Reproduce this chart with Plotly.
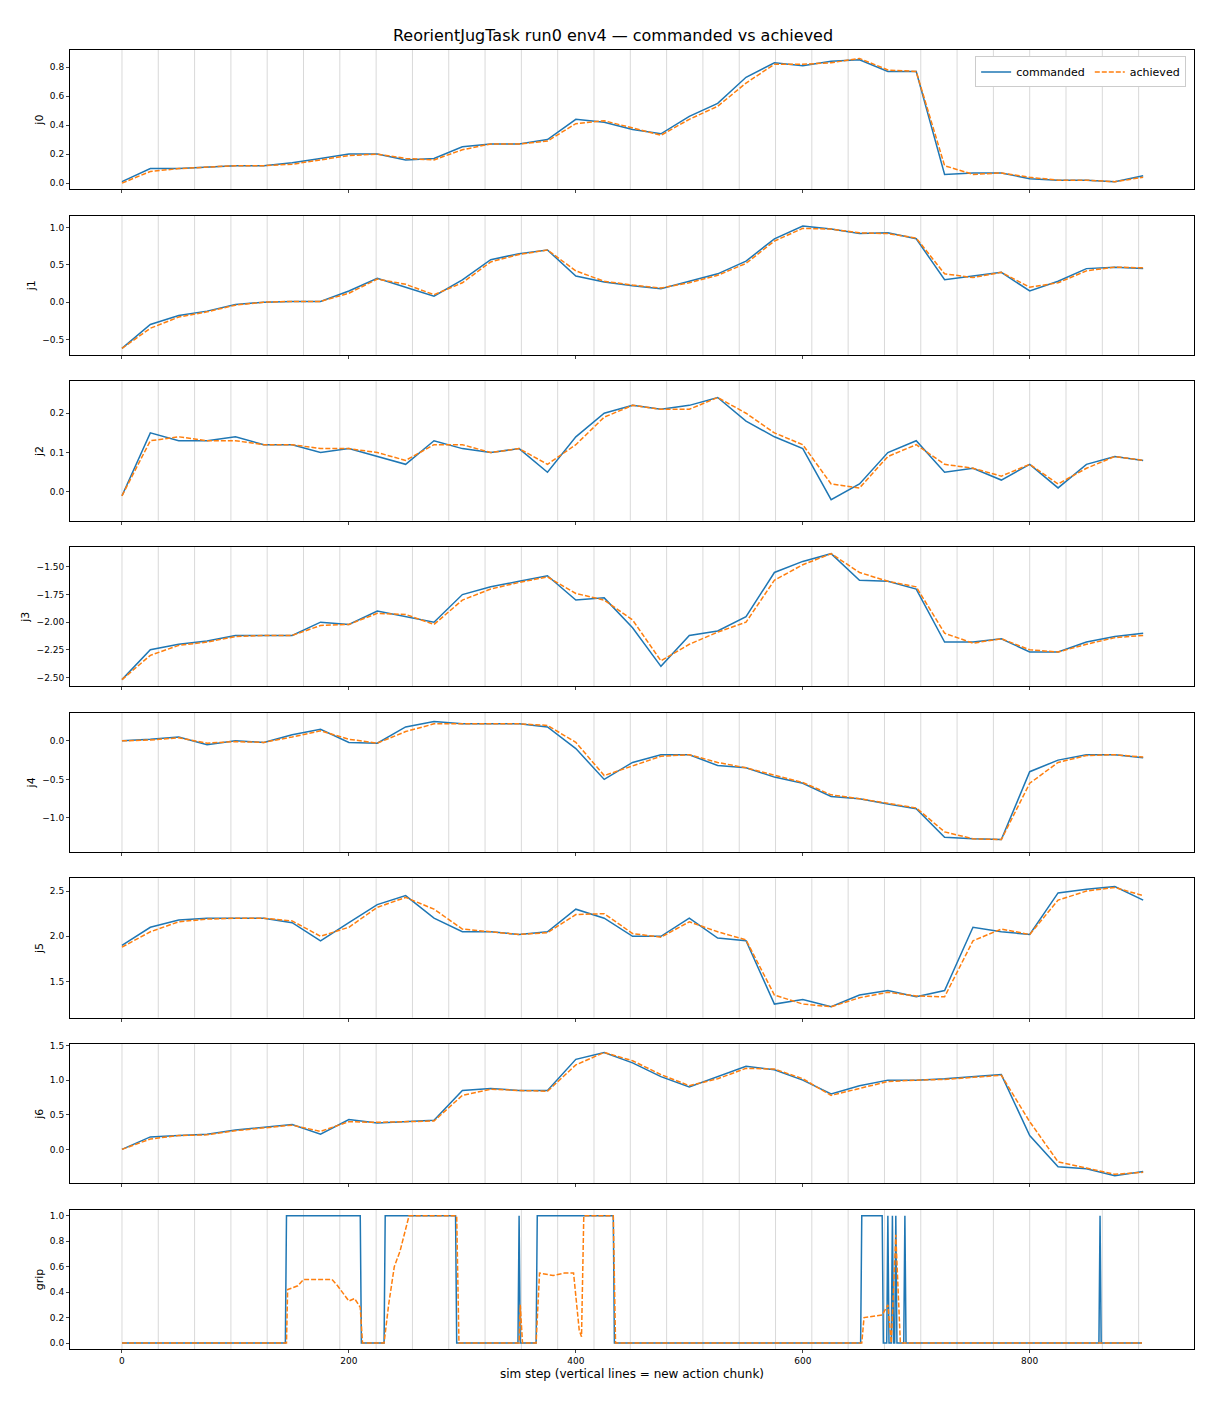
import plotly.graph_objects as go
from plotly.subplots import make_subplots

steps = list(range(0, 901, 25))

cmd_j0 = [0.01, 0.10, 0.10, 0.11, 0.12, 0.12, 0.14, 0.17, 0.20, 0.20, 0.16, 0.17, 0.25, 0.27, 0.27, 0.30, 0.44, 0.42, 0.37, 0.34, 0.46, 0.55, 0.73, 0.83, 0.81, 0.84, 0.85, 0.77, 0.77, 0.06, 0.07, 0.07, 0.03, 0.02, 0.02, 0.01, 0.05]
ach_j0 = [0.00, 0.08, 0.10, 0.11, 0.12, 0.12, 0.13, 0.16, 0.19, 0.20, 0.17, 0.16, 0.23, 0.27, 0.27, 0.29, 0.41, 0.43, 0.38, 0.33, 0.44, 0.53, 0.69, 0.82, 0.82, 0.83, 0.86, 0.78, 0.77, 0.12, 0.06, 0.07, 0.04, 0.02, 0.02, 0.01, 0.04]
cmd_j1 = [-0.62, -0.30, -0.18, -0.12, -0.03, 0.00, 0.01, 0.01, 0.15, 0.32, 0.20, 0.08, 0.30, 0.57, 0.65, 0.70, 0.35, 0.27, 0.22, 0.18, 0.28, 0.38, 0.55, 0.85, 1.02, 0.98, 0.92, 0.93, 0.85, 0.30, 0.35, 0.40, 0.15, 0.28, 0.45, 0.47, 0.45]
ach_j1 = [-0.62, -0.35, -0.20, -0.13, -0.04, 0.00, 0.01, 0.01, 0.12, 0.31, 0.24, 0.10, 0.26, 0.54, 0.64, 0.70, 0.42, 0.28, 0.23, 0.19, 0.26, 0.36, 0.52, 0.82, 0.99, 0.98, 0.93, 0.92, 0.86, 0.38, 0.33, 0.40, 0.20, 0.26, 0.42, 0.47, 0.46]
cmd_j2 = [-0.01, 0.15, 0.13, 0.13, 0.14, 0.12, 0.12, 0.10, 0.11, 0.09, 0.07, 0.13, 0.11, 0.10, 0.11, 0.05, 0.14, 0.20, 0.22, 0.21, 0.22, 0.24, 0.18, 0.14, 0.11, -0.02, 0.02, 0.10, 0.13, 0.05, 0.06, 0.03, 0.07, 0.01, 0.07, 0.09, 0.08]
ach_j2 = [-0.01, 0.13, 0.14, 0.13, 0.13, 0.12, 0.12, 0.11, 0.11, 0.10, 0.08, 0.12, 0.12, 0.10, 0.11, 0.07, 0.12, 0.19, 0.22, 0.21, 0.21, 0.24, 0.20, 0.15, 0.12, 0.02, 0.01, 0.09, 0.12, 0.07, 0.06, 0.04, 0.07, 0.02, 0.06, 0.09, 0.08]
cmd_j3 = [-2.52, -2.25, -2.20, -2.17, -2.12, -2.12, -2.12, -2.00, -2.02, -1.90, -1.95, -2.00, -1.75, -1.68, -1.63, -1.58, -1.80, -1.78, -2.05, -2.40, -2.12, -2.08, -1.95, -1.55, -1.45, -1.38, -1.62, -1.63, -1.70, -2.18, -2.18, -2.15, -2.27, -2.27, -2.18, -2.13, -2.10]
ach_j3 = [-2.52, -2.30, -2.21, -2.18, -2.13, -2.12, -2.12, -2.03, -2.02, -1.92, -1.93, -2.02, -1.80, -1.70, -1.64, -1.59, -1.74, -1.80, -1.98, -2.35, -2.20, -2.09, -2.00, -1.62, -1.48, -1.38, -1.55, -1.63, -1.68, -2.10, -2.19, -2.15, -2.25, -2.27, -2.20, -2.14, -2.12]
cmd_j4 = [0.00, 0.02, 0.05, -0.05, 0.00, -0.02, 0.08, 0.15, -0.02, -0.03, 0.18, 0.25, 0.22, 0.22, 0.22, 0.18, -0.10, -0.50, -0.28, -0.18, -0.18, -0.32, -0.35, -0.47, -0.55, -0.72, -0.75, -0.82, -0.88, -1.25, -1.27, -1.28, -0.40, -0.25, -0.18, -0.18, -0.22]
ach_j4 = [0.00, 0.01, 0.04, -0.03, -0.01, -0.02, 0.05, 0.13, 0.02, -0.03, 0.12, 0.22, 0.22, 0.22, 0.22, 0.20, -0.02, -0.45, -0.33, -0.20, -0.18, -0.28, -0.35, -0.45, -0.54, -0.70, -0.75, -0.81, -0.87, -1.18, -1.27, -1.28, -0.55, -0.28, -0.19, -0.18, -0.21]
cmd_j5 = [1.90, 2.10, 2.18, 2.20, 2.20, 2.20, 2.15, 1.95, 2.15, 2.35, 2.45, 2.20, 2.05, 2.05, 2.02, 2.05, 2.30, 2.20, 2.00, 2.00, 2.20, 1.98, 1.95, 1.25, 1.30, 1.22, 1.35, 1.40, 1.33, 1.40, 2.10, 2.05, 2.02, 2.48, 2.52, 2.55, 2.40]
ach_j5 = [1.88, 2.05, 2.16, 2.19, 2.20, 2.20, 2.17, 2.00, 2.10, 2.32, 2.43, 2.30, 2.08, 2.05, 2.02, 2.04, 2.24, 2.25, 2.03, 1.99, 2.16, 2.05, 1.96, 1.35, 1.25, 1.22, 1.32, 1.38, 1.34, 1.33, 1.95, 2.08, 2.02, 2.40, 2.50, 2.54, 2.45]
cmd_j6 = [0.00, 0.18, 0.20, 0.22, 0.28, 0.32, 0.36, 0.22, 0.43, 0.38, 0.40, 0.42, 0.85, 0.88, 0.85, 0.85, 1.30, 1.40, 1.25, 1.05, 0.90, 1.05, 1.20, 1.15, 1.00, 0.80, 0.92, 1.00, 1.00, 1.02, 1.05, 1.08, 0.20, -0.25, -0.28, -0.38, -0.32]
ach_j6 = [0.00, 0.15, 0.20, 0.21, 0.27, 0.31, 0.35, 0.26, 0.40, 0.39, 0.40, 0.41, 0.78, 0.87, 0.85, 0.84, 1.22, 1.40, 1.28, 1.08, 0.92, 1.02, 1.17, 1.16, 1.02, 0.78, 0.88, 0.98, 1.00, 1.01, 1.04, 1.07, 0.40, -0.18, -0.27, -0.36, -0.33]

grip_cmd_x = [0, 144, 145, 210, 211, 231, 232, 294, 295, 349, 350, 351, 365, 366, 433, 434, 651, 652, 670, 671, 674, 675, 676, 678, 679, 680, 681, 682, 683, 689, 690, 691, 861, 862, 863, 899]
grip_cmd_y = [0, 0, 1, 1, 0, 0, 1, 1, 0, 0, 1, 0, 0, 1, 1, 0, 0, 1, 1, 0, 0, 1, 0, 0, 1, 0, 0, 1, 0, 0, 1, 0, 0, 1, 0, 0]
grip_ach_x = [0, 145, 146, 155, 160, 185, 190, 200, 205, 210, 212, 231, 235, 240, 245, 253, 295, 297, 350, 351, 353, 365, 368, 380, 390, 398, 403, 405, 407, 433, 435, 652, 654, 670, 675, 678, 682, 686, 899]
grip_ach_y = [0, 0, 0.42, 0.45, 0.5, 0.5, 0.45, 0.33, 0.35, 0.28, 0, 0, 0.3, 0.6, 0.72, 1.0, 1.0, 0, 0, 0.3, 0, 0, 0.55, 0.53, 0.55, 0.55, 0.1, 0.05, 1.0, 1.0, 0, 0, 0.2, 0.22, 0.3, 0.0, 0.85, 0, 0]

names = ["j0", "j1", "j2", "j3", "j4", "j5", "j6", "grip"]
cmds = [cmd_j0, cmd_j1, cmd_j2, cmd_j3, cmd_j4, cmd_j5, cmd_j6]
achs = [ach_j0, ach_j1, ach_j2, ach_j3, ach_j4, ach_j5, ach_j6]
yranges = [[-0.042, 0.918], [-0.707, 1.16], [-0.073, 0.281], [-2.58, -1.32],
           [-1.44, 0.364], [1.10, 2.64], [-0.49, 1.52], [-0.047, 1.047]]
dticks = [0.2, 0.5, 0.1, 0.25, 0.5, 0.5, 0.5, 0.2]
fmts = [".1f", ".1f", ".1f", ".2f", ".1f", ".1f", ".1f", ".1f"]

blue = "#1f77b4"
orange = "#ff7f0e"

fig = make_subplots(rows=8, cols=1, shared_xaxes=True, vertical_spacing=0.0204)

for i in range(8):
    r = i + 1
    if i < 7:
        xc, yc, xa, ya = steps, cmds[i], steps, achs[i]
    else:
        xc, yc, xa, ya = grip_cmd_x, grip_cmd_y, grip_ach_x, grip_ach_y
    fig.add_trace(go.Scatter(x=xc, y=yc, mode="lines", name="commanded",
                             line=dict(color=blue, width=1.5), showlegend=(i == 0)), row=r, col=1)
    fig.add_trace(go.Scatter(x=xa, y=ya, mode="lines", name="achieved",
                             line=dict(color=orange, width=1.5, dash="5px,2px"), showlegend=(i == 0)), row=r, col=1)
    for s in range(0, 900, 32):
        fig.add_vline(x=s, line=dict(color="#d9d9d9", width=1), layer="below", row=r, col=1)
    fig.update_yaxes(range=yranges[i], dtick=dticks[i], tickformat=fmts[i],
                     title=dict(text=names[i], font=dict(size=11), standoff=4),
                     showgrid=False, zeroline=False, ticks="outside", ticklen=3,
                     showline=True, mirror=True, linecolor="black",
                     tickfont=dict(size=9), row=r, col=1)
    fig.update_xaxes(range=[-45.8, 944.8], dtick=200, showgrid=False, zeroline=False,
                     ticks="outside", ticklen=3, showline=True, mirror=True,
                     linecolor="black", tickfont=dict(size=9), row=r, col=1)

fig.update_xaxes(title=dict(text="sim step (vertical lines = new action chunk)", font=dict(size=12), standoff=4),
                 row=8, col=1)

fig.update_layout(
    width=1210, height=1408,
    margin=dict(l=62, r=24, t=42, b=67),
    plot_bgcolor="white", paper_bgcolor="white",
    font=dict(family="DejaVu Sans", color="black"),
    title=dict(text="ReorientJugTask run0 env4 — commanded vs achieved", x=0.5, y=0.9805,
               xanchor="center", yanchor="middle", font=dict(size=16)),
    legend=dict(orientation="h", x=0.993, y=0.995, xanchor="right", yanchor="top",
                bordercolor="#cccccc", borderwidth=1, font=dict(size=11), bgcolor="white"),
)

fig.write_html("out.html")
